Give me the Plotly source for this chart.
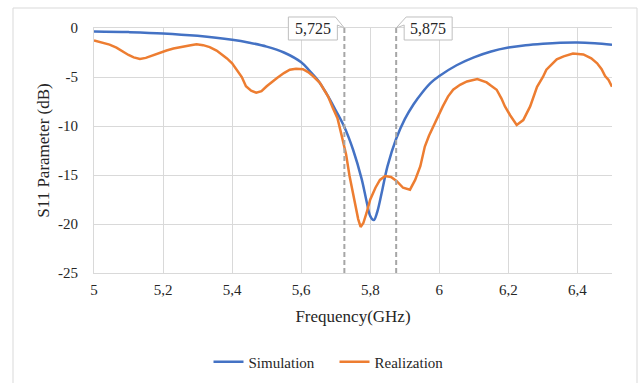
import plotly.graph_objects as go

# ---- data ----
sim_freq = [5.00, 5.10, 5.20, 5.30, 5.40, 5.45, 5.50, 5.55, 5.60, 5.625, 5.65, 5.675,
            5.70, 5.725, 5.75, 5.775, 5.79, 5.80, 5.81, 5.82, 5.835, 5.85, 5.875, 5.90,
            5.925, 5.95, 5.975, 6.00, 6.05, 6.10, 6.15, 6.20, 6.25, 6.30, 6.35, 6.40,
            6.45, 6.50]
sim_s11 = [-0.35, -0.42, -0.55, -0.8, -1.2, -1.5, -1.9, -2.5, -3.5, -4.4, -5.4, -6.8,
           -8.4, -10.1, -12.4, -15.4, -17.8, -19.2, -19.6, -18.8, -16.5, -14.1, -11.3, -9.3,
           -7.8, -6.6, -5.6, -4.9, -3.8, -3.0, -2.4, -2.0, -1.75, -1.6, -1.5, -1.47,
           -1.55, -1.7]

real_freq = [5.000, 5.020, 5.045, 5.065, 5.083, 5.100, 5.115, 5.133, 5.150, 5.165,
             5.190, 5.210, 5.230, 5.255, 5.280, 5.297, 5.316, 5.335, 5.355, 5.370,
             5.385, 5.400, 5.413, 5.428, 5.440, 5.455, 5.470, 5.485, 5.500, 5.515,
             5.530, 5.550, 5.567, 5.585, 5.605, 5.620, 5.634, 5.654, 5.665, 5.678,
             5.692, 5.705, 5.716, 5.730, 5.740, 5.755, 5.765, 5.772, 5.780, 5.789,
             5.800, 5.815, 5.828, 5.843, 5.860, 5.876, 5.895, 5.915, 5.930, 5.945,
             5.958, 5.970, 5.983, 5.998, 6.010, 6.025, 6.040, 6.060, 6.080, 6.110,
             6.137, 6.150, 6.166, 6.180, 6.190, 6.205, 6.224, 6.243, 6.253, 6.263,
             6.283, 6.300, 6.310, 6.325, 6.340, 6.360, 6.387, 6.417, 6.440, 6.457,
             6.470, 6.480, 6.490, 6.500]
real_s11 = [-1.26, -1.45, -1.7, -2.0, -2.4, -2.75, -3.0, -3.17, -3.05, -2.85,
            -2.5, -2.3, -2.1, -1.9, -1.75, -1.65, -1.75, -1.95, -2.3, -2.7,
            -3.1, -3.6, -4.25, -5.0, -5.95, -6.4, -6.6, -6.45, -5.95, -5.5,
            -5.1, -4.6, -4.25, -4.15, -4.2, -4.5, -4.9, -5.6, -6.2, -7.0,
            -8.2, -9.2, -10.8, -12.9, -15.1, -17.8, -19.5, -20.3, -19.9, -18.9,
            -17.5, -16.3, -15.5, -15.1, -15.2, -15.6, -16.3, -16.5, -15.5, -14.1,
            -12.1, -11.0, -10.0, -9.0, -8.0, -7.0, -6.3, -5.8, -5.45, -5.2,
            -5.55, -5.9, -6.3, -7.2, -8.0, -8.9, -9.9, -9.4, -8.7, -8.0,
            -6.0, -5.0, -4.25, -3.7, -3.2, -2.9, -2.6, -2.7, -3.1, -3.6,
            -4.2, -4.9, -5.3, -6.0]

band_edges = [5.725, 5.875]
band_labels = ["5,725", "5,875"]

x_ticks = [5.0, 5.2, 5.4, 5.6, 5.8, 6.0, 6.2, 6.4]
x_ticktext = ["5", "5,2", "5,4", "5,6", "5,8", "6", "6,2", "6,4"]
y_ticks = [-25, -20, -15, -10, -5, 0]
y_ticktext = ["-25", "-20", "-15", "-10", "-5", "0"]

# ---- layout geometry ----
W, H = 643, 383
ML, MR, MT, MB = 94, 31, 28, 110
PW, PH = W - ML - MR, H - MT - MB
X0, X1 = 5.0, 6.5
Y0, Y1 = -25, 0
FONT = "Liberation Serif"
TXT = "#262626"
GRID = "#D9D9D9"


def px_to_paper(px, py):
    return (px - ML) / PW, (H - MB - py) / PH


def data_x_to_px(x):
    return ML + (x - X0) / (X1 - X0) * PW


fig = go.Figure()
fig.add_trace(go.Scatter(x=sim_freq, y=sim_s11, mode="lines", name="Simulation",
                         line=dict(color="#4472C4", width=2.5, shape="spline", smoothing=1.0)))
fig.add_trace(go.Scatter(x=real_freq, y=real_s11, mode="lines", name="Realization",
                         line=dict(color="#ED7D31", width=2.5)))

shapes = []
annotations = []
# outer chart border
bx0, by0 = px_to_paper(13, 8)
bx1, by1 = px_to_paper(637, 420)
shapes.append(dict(type="rect", xref="paper", yref="paper", x0=bx0, y0=by1, x1=bx1, y1=by0,
                   line=dict(color="#D9D9D9", width=1), fillcolor="rgba(0,0,0,0)", layer="below"))

for i, (xe, lab) in enumerate(zip(band_edges, band_labels)):
    shapes.append(dict(type="line", xref="x", yref="y", x0=xe, x1=xe, y0=Y0, y1=Y1,
                       line=dict(color="#A6A6A6", width=2, dash="5px,3px")))
    tx = data_x_to_px(xe)
    ty = MT
    if i == 0:
        pts = [(tx - 56, 17), (tx - 9, 17), (tx, ty), (tx - 7, 25), (tx - 7, 40), (tx - 56, 40)]
        cx = tx - 31.5
    else:
        pts = [(tx + 56, 17), (tx + 10, 17), (tx, ty), (tx + 8, 25), (tx + 8, 40), (tx + 56, 40)]
        cx = tx + 32
    pp = [px_to_paper(a, b) for a, b in pts]
    path = "M " + " L ".join(f"{a:.5f},{b:.5f}" for a, b in pp) + " Z"
    shapes.append(dict(type="path", xref="paper", yref="paper", path=path,
                       fillcolor="white", line=dict(color="#BFBFBF", width=1)))
    ax, ay = px_to_paper(cx, 28.5)
    annotations.append(dict(text=lab, xref="paper", yref="paper", x=ax, y=ay,
                            xanchor="center", yanchor="middle", showarrow=False,
                            font=dict(family=FONT, size=16, color=TXT)))

lx, ly = px_to_paper(334.5, 362)
fig.update_layout(
    width=W, height=H,
    margin=dict(l=ML, r=MR, t=MT, b=MB, autoexpand=False),
    paper_bgcolor="white", plot_bgcolor="white",
    font=dict(family=FONT, size=15, color=TXT),
    showlegend=True,
    legend=dict(orientation="h", x=lx, y=ly, xanchor="center", yanchor="middle",
                font=dict(family=FONT, size=15, color=TXT),
                itemwidth=30, entrywidth=81, bgcolor="rgba(0,0,0,0)"),
    shapes=shapes,
    annotations=annotations,
)
fig.update_xaxes(range=[X0, X1], tickvals=x_ticks, ticktext=x_ticktext,
                 showgrid=True, gridcolor=GRID, gridwidth=1, zeroline=False,
                 showline=True, mirror=True, linecolor=GRID, linewidth=1,
                 ticks="outside", ticklen=3, tickcolor="rgba(0,0,0,0)",
                 tickfont=dict(family=FONT, size=15, color=TXT),
                 title=dict(text="Frequency(GHz)", standoff=13,
                            font=dict(family=FONT, size=17, color=TXT)))
fig.update_yaxes(range=[Y0, Y1], tickvals=y_ticks, ticktext=y_ticktext,
                 showgrid=True, gridcolor=GRID, gridwidth=1, zeroline=False,
                 showline=True, mirror=False, linecolor=GRID, linewidth=1,
                 ticks="outside", ticklen=12, tickcolor="rgba(0,0,0,0)",
                 tickfont=dict(family=FONT, size=15, color=TXT),
                 title=dict(text="S11 Parameter (dB)", standoff=4,
                            font=dict(family=FONT, size=17, color=TXT)))

fig.write_html("out.html", config={"displayModeBar": False},
               post_script="document.body.style.margin='0';")
